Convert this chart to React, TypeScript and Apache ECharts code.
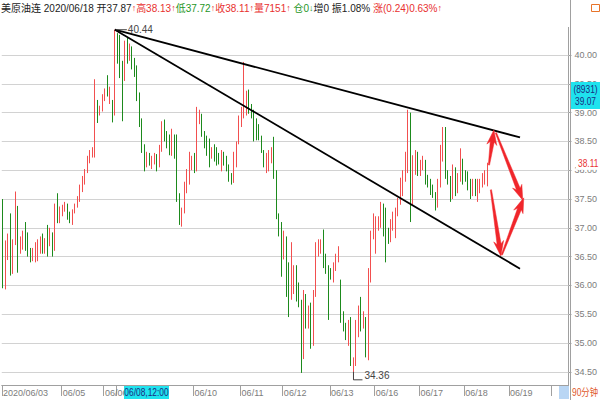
import React, { useEffect, useRef } from 'react';
import * as echarts from 'echarts';

// [open, close, low, high] for each 90-minute bar
const candles: number[][] = [
  [37.48, 36.03, 35.95, 37.50], [36.10, 36.55, 35.93, 36.78], [36.50, 36.80, 36.44, 36.90], [36.75, 36.53, 36.17, 37.25],
  [36.55, 36.75, 36.20, 36.80], [36.78, 37.37, 36.70, 37.63], [37.35, 36.75, 36.22, 37.38], [36.68, 36.78, 36.55, 36.85],
  [36.68, 36.88, 36.62, 36.95], [36.88, 36.78, 36.60, 37.10], [36.82, 36.58, 36.50, 36.92], [36.60, 36.48, 36.40, 36.65],
  [36.50, 36.58, 36.42, 36.65], [36.50, 36.65, 36.40, 36.75], [36.48, 36.72, 36.42, 36.80], [36.62, 36.78, 36.55, 36.85],
  [36.82, 36.62, 36.55, 36.90], [36.60, 36.75, 36.55, 36.82], [36.85, 36.70, 36.50, 37.05], [36.70, 36.95, 36.68, 37.00],
  [36.90, 36.60, 36.50, 36.92], [36.62, 37.30, 36.60, 37.42], [37.25, 37.12, 37.08, 37.60], [37.10, 37.30, 37.08, 37.37],
  [37.22, 37.32, 37.20, 37.40], [37.30, 37.40, 37.28, 37.45], [37.40, 37.20, 37.14, 37.42], [37.22, 37.15, 37.08, 37.28],
  [37.10, 37.28, 37.05, 37.32], [37.28, 37.38, 37.25, 37.42], [37.38, 37.50, 37.35, 37.55], [37.50, 37.68, 37.45, 37.75],
  [37.65, 37.85, 37.62, 37.90], [37.80, 37.98, 37.75, 38.02], [37.98, 38.20, 37.95, 38.25], [38.15, 38.30, 38.12, 38.35],
  [38.25, 38.35, 38.22, 38.40], [38.33, 39.40, 38.22, 39.58], [39.15, 38.98, 38.82, 39.22], [38.98, 39.08, 38.95, 39.12],
  [39.05, 39.28, 39.02, 39.32], [39.25, 39.35, 39.20, 39.42], [39.42, 39.32, 39.28, 39.65], [39.20, 39.40, 39.15, 39.45],
  [39.18, 39.00, 38.83, 39.22],
  [39.00, 40.30, 38.95, 40.44], [40.25, 39.95, 39.85, 40.38], [40.00, 39.75, 39.60, 40.35], [39.75, 39.60, 38.85, 39.90],
  [39.60, 40.15, 39.55, 40.25], [40.15, 39.95, 39.85, 40.30], [39.95, 40.15, 39.90, 40.20], [40.10, 39.85, 39.75, 40.15],
  [39.90, 39.70, 39.62, 39.95], [39.75, 39.30, 39.20, 39.82], [39.30, 38.85, 38.75, 39.35], [38.85, 38.40, 38.30, 38.90],
  [38.40, 38.08, 37.98, 38.45], [38.08, 38.25, 38.05, 38.32], [38.25, 38.12, 38.08, 38.30], [38.05, 38.20, 38.02, 38.25],
  [38.15, 38.25, 38.10, 38.30], [38.25, 38.05, 37.98, 38.28], [38.08, 38.35, 38.05, 38.44], [38.35, 38.80, 38.32, 38.85],
  [38.82, 38.55, 38.50, 38.88], [38.60, 38.42, 38.38, 38.68], [38.55, 38.30, 38.26, 38.62], [38.30, 38.68, 38.25, 38.72],
  [38.60, 38.30, 38.20, 38.62], [38.50, 37.50, 37.45, 38.62], [37.55, 37.12, 37.05, 37.60], [37.08, 37.30, 37.02, 37.35],
  [37.30, 37.70, 37.25, 37.80], [37.65, 37.95, 37.60, 38.02], [37.80, 38.25, 37.75, 38.32], [38.05, 38.20, 38.00, 38.25],
  [38.25, 38.00, 37.95, 38.30], [38.05, 38.95, 37.98, 39.10], [38.85, 38.95, 38.80, 39.05], [38.95, 38.65, 38.58, 38.98],
  [38.65, 38.42, 38.38, 38.68], [38.55, 38.30, 38.25, 38.60], [38.52, 38.20, 38.05, 38.55], [38.25, 38.35, 38.20, 38.40],
  [38.40, 38.20, 38.15, 38.45], [38.35, 38.12, 38.08, 38.40], [38.25, 38.15, 38.10, 38.30], [38.15, 38.30, 37.98, 38.35],
  [38.28, 38.12, 38.08, 38.32], [38.20, 38.00, 37.98, 38.25], [38.05, 37.82, 37.80, 38.10], [37.90, 37.78, 37.75, 37.95],
  [37.80, 38.25, 37.78, 38.32], [38.10, 38.45, 38.05, 38.50], [38.50, 38.85, 38.45, 38.95], [38.80, 39.00, 38.75, 39.10],
  [38.95, 39.35, 38.90, 39.88], [39.05, 39.30, 38.95, 39.38], [39.30, 39.05, 38.98, 39.40], [39.10, 38.95, 38.90, 39.15],
  [39.00, 38.62, 38.50, 39.05], [38.75, 38.55, 38.52, 38.90], [38.72, 38.55, 38.52, 38.80], [38.55, 38.32, 38.30, 38.60],
  [38.30, 38.08, 38.05, 38.35], [38.00, 38.25, 37.95, 38.30], [38.05, 38.30, 37.98, 38.35], [38.15, 38.38, 38.12, 38.40],
  [38.45, 37.90, 37.85, 38.58], [37.95, 37.25, 37.15, 38.00], [37.20, 36.95, 36.85, 37.25], [37.00, 36.60, 36.15, 37.10],
  [36.50, 36.85, 36.45, 36.95], [36.80, 36.20, 35.80, 36.85], [36.30, 35.75, 35.45, 36.40], [35.80, 36.40, 35.75, 36.75],
  [35.90, 36.30, 35.85, 36.35], [36.30, 35.85, 35.72, 36.35], [35.95, 35.70, 35.62, 36.05], [35.70, 34.75, 34.48, 35.75],
  [34.78, 35.88, 34.72, 35.92], [35.80, 35.30, 35.25, 35.85], [35.35, 35.50, 35.25, 35.65], [35.65, 34.95, 34.90, 35.70],
  [35.00, 35.85, 34.95, 35.92], [35.85, 36.70, 35.80, 36.75], [36.55, 36.72, 36.50, 36.80], [36.60, 36.75, 36.55, 36.80],
  [36.75, 36.35, 36.30, 36.97], [36.50, 36.25, 36.20, 36.55], [36.30, 36.05, 35.40, 36.35], [36.25, 36.15, 36.10, 36.30],
  [36.10, 36.35, 36.05, 36.40], [36.30, 36.50, 36.25, 36.55], [36.45, 36.62, 36.40, 36.68],
  [36.05, 35.42, 35.35, 36.10], [35.50, 35.25, 35.20, 35.55], [35.30, 35.10, 35.05, 35.35], [35.02, 35.35, 34.95, 35.40],
  [35.40, 34.65, 34.60, 35.45], [34.55, 34.70, 34.36, 34.75], [34.65, 35.35, 34.60, 35.40], [35.15, 35.55, 35.10, 35.65],
  [35.75, 35.25, 35.20, 35.80], [35.30, 35.50, 35.25, 35.55], [35.40, 34.85, 34.75, 35.45], [34.88, 36.20, 34.70, 36.30],
  [36.10, 36.90, 36.05, 36.95], [36.85, 37.15, 36.80, 37.25],
  [36.90, 37.15, 36.55, 37.20], [37.00, 37.15, 36.95, 37.20], [37.05, 37.40, 37.00, 37.45], [37.35, 36.90, 36.85, 37.42],
  [37.20, 36.80, 36.40, 37.35], [36.95, 36.78, 36.72, 37.00], [36.80, 37.10, 36.75, 37.15], [37.00, 37.20, 36.95, 37.28],
  [36.85, 37.30, 36.82, 37.35], [37.25, 37.45, 37.20, 37.52], [37.45, 37.82, 37.40, 37.87], [37.70, 37.95, 37.55, 38.00],
  [37.90, 38.25, 37.80, 38.32], [38.15, 38.90, 37.95, 39.05], [38.95, 37.40, 37.10, 39.00], [37.45, 38.15, 37.40, 38.26],
  [38.00, 38.25, 37.92, 38.35], [38.30, 37.98, 37.90, 38.32], [37.95, 38.15, 37.90, 38.18], [38.05, 38.20, 38.00, 38.25],
  [38.15, 37.80, 37.75, 38.18], [37.88, 37.72, 37.70, 37.92], [37.80, 37.60, 37.57, 37.85], [37.72, 37.55, 37.52, 37.75],
  [37.60, 37.35, 37.30, 37.62], [37.40, 37.80, 37.35, 37.85], [37.75, 38.30, 37.70, 38.44], [38.20, 38.65, 38.15, 38.75],
  [38.62, 37.90, 37.85, 38.75], [37.95, 37.80, 37.75, 38.00], [37.85, 37.50, 37.45, 37.90], [37.55, 38.00, 37.50, 38.10],
  [37.98, 37.60, 37.55, 38.05], [37.65, 37.90, 37.60, 37.95], [37.85, 38.30, 37.80, 38.38], [38.15, 37.80, 37.75, 38.20],
  [37.95, 37.85, 37.80, 38.00], [37.92, 37.70, 37.65, 37.98], [37.80, 37.55, 37.50, 37.85], [37.60, 37.80, 37.55, 37.85],
  [37.82, 37.62, 37.55, 37.85], [37.50, 37.80, 37.45, 37.85], [37.65, 37.80, 37.60, 37.85], [37.72, 37.90, 37.70, 37.95],
  [37.80, 37.95, 37.75, 38.00], [37.87, 38.11, 37.72, 38.13],
];

// total bar slots on the axis (the right part is future space)
const slotCount = 228;

// x-axis date labels: [slot index, text]
const axisDates: [number, string][] = [
  [0, '2020/06/03'], [24, '06/05'], [41, '06/06'], [46, ''], [77, '06/10'], [96, '06/11'],
  [113, '06/12'], [132, '06/13'], [150, '06/16'], [168, '06/17'], [186, '06/18'], [204, '06/19'], [221, ''],
];

const priceTicks = [34.5, 35.0, 35.5, 36.0, 36.5, 37.0, 37.5, 38.0, 38.5, 39.0, 39.5, 40.0];
const yMin = 34.27;
const yMax = 40.48;

// trend lines: [slot index, price]
const trendUpper = [[45, 40.44], [208, 38.57]];
const trendLower = [[45, 40.44], [208, 36.29]];

// red arrows: tail -> head, in [slot index, price]
const arrowTails = [[195.5, 38.09], [198.3, 38.65], [200.7, 36.53], [196.3, 37.66]];
const arrowHeads = [[197.5, 38.70], [209.1, 37.48], [209.5, 37.52], [200.3, 36.51]];

const symbolName = '美原油连';
const barDate = '2020/06/18';
const volume = 7151;
const openInterest = 0;
const oiChange = 0;
const amplitude = '1.08%';
const change = '0.24';
const changePct = '0.63%';
const cursorDate = '06/08,12:00';
const cursorCount = 8931;
const cursorPrice = 39.07;
const periodLabel = '90分钟';

const FONT = '"Liberation Sans",Arial,"Noto Sans CJK SC",sans-serif';
const RED = '#f24f4f';
const GREEN = '#1d8a1d';
const NARROW_X = 0.84;

export default function App() {
  const ref = useRef<HTMLDivElement>(null);
  useEffect(() => {
    const el = ref.current!;
    const chart = echarts.init(el, null, { renderer: 'svg' });
    const cats = Array.from({ length: slotCount }, (_, i) => String(i));
    const labelMap = new Map<number, string>(axisDates);

    chart.setOption({
      animation: false,
      backgroundColor: '#ffffff',
      grid: { left: 0, right: 30, top: 27.4, bottom: 15, containLabel: false },
      xAxis: {
        type: 'category',
        data: cats,
        boundaryGap: true,
        axisLine: { lineStyle: { color: '#a0a0a0', width: 1 } },
        axisTick: {
          show: true,
          interval: (i: number) => labelMap.has(i),
          length: 11,
          lineStyle: { color: '#a0a0a0' },
        },
        axisLabel: {
          interval: (i: number) => labelMap.has(i),
          formatter: (v: string) => labelMap.get(Number(v)) ?? '',
          align: 'left',
          margin: 3,
          color: '#7c7c7c',
          fontSize: 9,
          fontFamily: FONT,
        },
        splitLine: { show: false },
      },
      yAxis: {
        type: 'value',
        position: 'right',
        min: yMin,
        max: yMax,
        splitLine: { show: false },
        axisLine: { show: true, lineStyle: { color: '#a0a0a0' } },
        axisTick: { show: true, customValues: priceTicks, length: 3, lineStyle: { color: '#a0a0a0' } },
        axisLabel: {
          customValues: priceTicks,
          formatter: (v: number) => v.toFixed(2),
          color: '#7c7c7c',
          fontSize: 9,
          fontFamily: FONT,
          margin: 6,
        },
      },
      series: [
        {
          type: 'candlestick',
          data: candles,
          barWidth: 1,
          z: 2,
          itemStyle: { color: RED, color0: GREEN, borderColor: RED, borderColor0: GREEN, borderWidth: 1 },
          markLine: {
            silent: true,
            z: 1,
            symbol: 'none',
            label: { show: false },
            lineStyle: { color: '#d2d2d2', type: 'solid', width: 1 },
            data: priceTicks.map((v) => ({ yAxis: v })),
          },
        },
        {
          type: 'line', data: trendUpper, symbol: 'none', silent: true, z: 3,
          lineStyle: { color: '#000000', width: 1.8 },
        },
        {
          type: 'line', data: trendLower, symbol: 'none', silent: true, z: 3,
          lineStyle: { color: '#000000', width: 1.8 },
        },
      ],
    });

    const toPx = (i: number, p: number) => {
      const a = chart.convertToPixel({ xAxisIndex: 0, yAxisIndex: 0 }, [0, p]) as number[];
      const b = chart.convertToPixel({ xAxisIndex: 0, yAxisIndex: 0 }, [1, p]) as number[];
      return [a[0] + (b[0] - a[0]) * i, a[1]];
    };

    const arrowShape = (t: number[], h: number[]) => {
      const dx = h[0] - t[0];
      const dy = h[1] - t[1];
      const L = Math.hypot(dx, dy);
      const ux = dx / L, uy = dy / L;
      const nx = -uy, ny = ux;
      const hl = 15, hw = 5, sw0 = 0.6, sw1 = 2.0, notch = 3;
      const bx = h[0] - ux * hl, by = h[1] - uy * hl;
      const cx = bx + ux * notch, cy = by + uy * notch;
      return [
        [t[0] + nx * sw0, t[1] + ny * sw0],
        [cx + nx * sw1, cy + ny * sw1],
        [bx + nx * hw, by + ny * hw],
        [h[0], h[1]],
        [bx - nx * hw, by - ny * hw],
        [cx - nx * sw1, cy - ny * sw1],
        [t[0] - nx * sw0, t[1] - ny * sw0],
      ];
    };

    // high / low markers from the data
    let hiIdx = 0, loIdx = 0;
    candles.forEach((c, i) => {
      if (c[3] > candles[hiIdx][3]) hiIdx = i;
      if (c[2] < candles[loIdx][2]) loIdx = i;
    });
    const hiVal = candles[hiIdx][3];
    const loVal = candles[loIdx][2];
    const hp = toPx(hiIdx, hiVal);
    const lp = toPx(loIdx, loVal);
    const last = candles[candles.length - 1];
    const lastPx = toPx(candles.length - 1, last[1]);

    const graphics: any[] = [];
    // header
    graphics.push({
      type: 'text',
      left: 1,
      top: 3,
      z: 20,
      style: {
        text:
          `{k|${symbolName} ${barDate} 开${last[0].toFixed(2)}}{ar|↑}{r|高${last[3].toFixed(2)}}{ar|↑}` +
          `{g|低${last[2].toFixed(2)}}{ar|↑}{r|收${last[1].toFixed(2)}}{ar|↑}{r|量${volume}}{ar|↑} ` +
          `{g|仓${openInterest}}{ag|↓}{k|增${oiChange} 振${amplitude}} {r|涨(${change})${changePct}}{ar|↑}`,
        fontSize: 10,
        fontFamily: FONT,
        rich: {
          k: { fill: '#222222', fontSize: 10, fontFamily: FONT },
          r: { fill: '#e8302f', fontSize: 10, fontFamily: FONT },
          g: { fill: '#1f961f', fontSize: 10, fontFamily: FONT },
          ar: { fill: '#e8302f', fontSize: 9, fontFamily: FONT },
          ag: { fill: '#1f961f', fontSize: 9, fontFamily: FONT },
        },
      },
    });
    // full-height right axis line
    graphics.push({
      type: 'line', z: 10, silent: true,
      shape: { x1: 570.5, y1: 0, x2: 570.5, y2: 400 },
      style: { stroke: '#a0a0a0', lineWidth: 1 },
    });
    // top-right icon
    graphics.push({
      type: 'rect', z: 10, shape: { x: 591.5, y: 4.5, width: 8, height: 7 },
      style: { fill: 'none', stroke: '#e8742a', lineWidth: 1 },
    });
    // high marker
    graphics.push({
      type: 'line', z: 10, shape: { x1: hp[0] + 1, y1: hp[1], x2: hp[0] + 12, y2: hp[1] },
      style: { stroke: '#444444', lineWidth: 1 },
    });
    graphics.push({
      type: 'text', z: 10, x: hp[0] + 13, y: hp[1],
      style: { text: hiVal.toFixed(2), fill: '#444444', fontSize: 10, fontFamily: FONT, verticalAlign: 'middle', align: 'left' },
    });
    // low marker
    graphics.push({
      type: 'polyline', z: 10,
      shape: { points: [[lp[0], lp[1] - 8], [lp[0], lp[1]], [lp[0] + 9, lp[1]]] },
      style: { stroke: '#444444', lineWidth: 1, fill: 'none' },
    });
    graphics.push({
      type: 'text', z: 10, x: lp[0] + 11, y: lp[1] - 4,
      style: { text: loVal.toFixed(2), fill: '#444444', fontSize: 10, fontFamily: FONT, verticalAlign: 'middle', align: 'left' },
    });
    // arrows
    arrowTails.forEach((t, i) => {
      const tp = toPx(t[0], t[1]);
      const hpp = toPx(arrowHeads[i][0], arrowHeads[i][1]);
      graphics.push({
        type: 'polygon', z: 12,
        shape: { points: arrowShape(tp, hpp) },
        style: { fill: '#f0262b', stroke: '#f0262b', lineWidth: 0.5 },
      });
    });
    // last close label on the right axis
    graphics.push({
      type: 'rect', z: 14, shape: { x: 576, y: lastPx[1] - 6, width: 24, height: 12 },
      style: { fill: '#ffffff' },
    });
    graphics.push({
      type: 'text', z: 15, x: 578, y: lastPx[1], scaleX: NARROW_X,
      style: {
        text: last[1].toFixed(2), fill: '#e8302f', fontSize: 10, fontFamily: FONT,
        verticalAlign: 'middle', align: 'left',
      },
    });
    // crosshair price box on the right
    graphics.push({
      type: 'rect', z: 15, shape: { x: 571, y: 82, width: 29, height: 27 },
      style: { fill: '#1fe3ee' },
    });
    graphics.push({
      type: 'text', z: 16, x: 585.5, y: 95.5, scaleX: NARROW_X,
      style: {
        text: `(${cursorCount})\n${cursorPrice.toFixed(2)}`, fill: '#1b2a80', fontSize: 10, lineHeight: 12,
        fontFamily: FONT, align: 'center', verticalAlign: 'middle',
      },
    });
    // crosshair date box at the bottom
    graphics.push({
      type: 'rect', z: 15, shape: { x: 124, y: 386, width: 45, height: 13 },
      style: { fill: '#1fe3ee' },
    });
    graphics.push({
      type: 'text', z: 16, x: 146.5, y: 392.5, scaleX: NARROW_X,
      style: { text: cursorDate, fill: '#1b2a80', fontSize: 10, fontFamily: FONT, align: 'center', verticalAlign: 'middle' },
    });
    // bottom-right period
    graphics.push({
      type: 'rect', z: 15, shape: { x: 559, y: 386, width: 10, height: 13 },
      style: { fill: '#b9d6f4' },
    });
    graphics.push({
      type: 'text', z: 16, x: 572, y: 393, scaleX: NARROW_X,
      style: { text: periodLabel, fill: '#e0582a', fontSize: 10, fontFamily: FONT, align: 'left', verticalAlign: 'middle' },
    });

    chart.setOption({ graphic: graphics });

    return () => chart.dispose();
  }, []);

  return (
    <div
      ref={ref}
      style={{ position: 'fixed', left: 0, top: 0, width: 600, height: 400, background: '#fff' }}
    />
  );
}
